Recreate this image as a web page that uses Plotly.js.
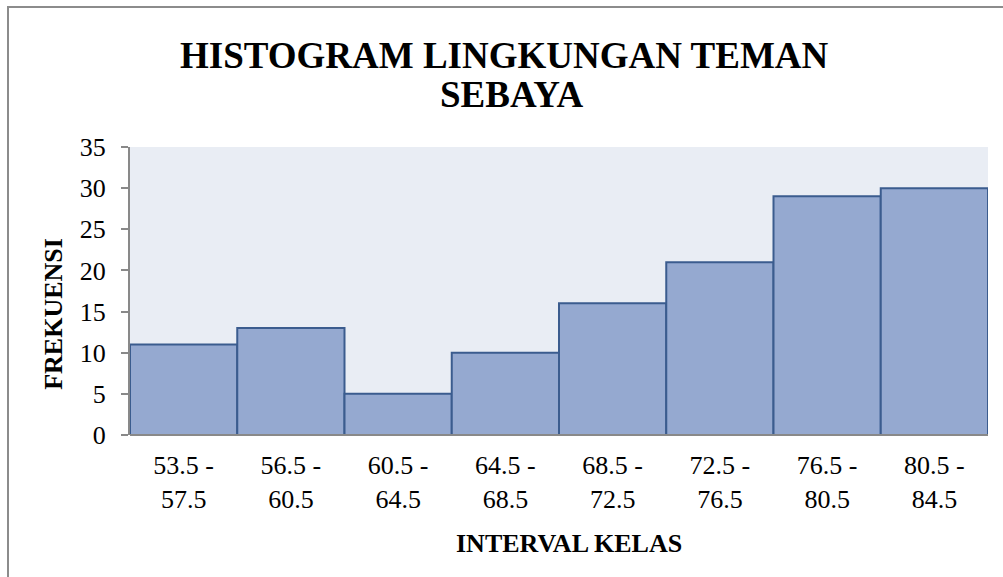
<!DOCTYPE html>
<html>
<head>
<meta charset="utf-8">
<script src="https://cdn.plot.ly/plotly-3.0.1.min.js"></script>
<style>
html,body{margin:0;padding:0;background:#fff;overflow:hidden;width:1003px;height:577px;}
#frame{position:absolute;left:7px;top:6px;width:1200px;height:800px;border:2px solid #8c8c8c;box-sizing:border-box;}
#chart{position:absolute;left:0;top:0;width:1003px;height:577px;}
</style>
</head>
<body>
<div id="frame"></div>
<div id="chart"></div>
<script>
const categories = ["53.5 -<br>57.5","56.5 -<br>60.5","60.5 -<br>64.5","64.5 -<br>68.5","68.5 -<br>72.5","72.5 -<br>76.5","76.5 -<br>80.5","80.5 -<br>84.5"];
const frequencies = [11, 13, 5, 10, 16, 21, 29, 30];
const yTicks = [0, 5, 10, 15, 20, 25, 30, 35];
const titleLines = ["HISTOGRAM LINGKUNGAN TEMAN", "SEBAYA"];
const xTitle = "INTERVAL KELAS";
const yTitle = "FREKUENSI";

const serif = '"Liberation Serif", "Times New Roman", serif';

const trace = {
  type: 'bar',
  x: categories,
  y: frequencies,
  width: 1,
  marker: {color: '#95A9D0', line: {color: '#3B5C8E', width: 2}},
  hoverinfo: 'skip'
};

const layout = {
  width: 1003, height: 577,
  paper_bgcolor: 'rgba(0,0,0,0)',
  plot_bgcolor: '#E9EDF4',
  margin: {l: 130, r: 15, t: 147, b: 142},
  showlegend: false,
  bargap: 0,
  xaxis: {
    type: 'category',
    showgrid: false, zeroline: false,
    showline: false,
    ticks: '',
    ticklabelstandoff: 12,
    tickfont: {family: serif, size: 26, color: '#000'},
    range: [-0.5, 7.5]
  },
  yaxis: {
    range: [0, 35],
    tickvals: yTicks,
    showgrid: false, zeroline: false,
    showline: true, linecolor: '#898989', linewidth: 2,
    ticks: 'outside', ticklen: 7, tickcolor: '#898989', tickwidth: 2,
    ticklabelstandoff: 10,
    tickfont: {family: serif, size: 26, color: '#000'}
  },
  annotations: [
    {text: titleLines[0], xref: 'paper', yref: 'paper', x: 0.437, y: 1.319, xanchor: 'center', yanchor: 'middle', showarrow: false,
     font: {family: serif, size: 37, color: '#000', weight: 'bold'}},
    {text: titleLines[1], xref: 'paper', yref: 'paper', x: 0.445, y: 1.184, xanchor: 'center', yanchor: 'middle', showarrow: false,
     font: {family: serif, size: 37, color: '#000', weight: 'bold'}},
    {text: xTitle, xref: 'paper', yref: 'paper', x: 0.512, y: -0.375, xanchor: 'center', yanchor: 'middle', showarrow: false,
     font: {family: serif, size: 26, color: '#000', weight: 'bold'}},
    {text: yTitle, xref: 'paper', yref: 'paper', x: -0.09, y: 0.42, xanchor: 'center', yanchor: 'middle', showarrow: false, textangle: -90,
     font: {family: serif, size: 26, color: '#000', weight: 'bold'}}
  ],
  shapes: [{
    type: 'line', xref: 'paper', yref: 'paper', x0: 0, x1: 1, y0: 0, y1: 0,
    line: {color: '#898989', width: 2}, layer: 'above'
  }]
};

Plotly.newPlot('chart', [trace], layout, {displayModeBar: false, staticPlot: true});
</script>
</body>
</html>
